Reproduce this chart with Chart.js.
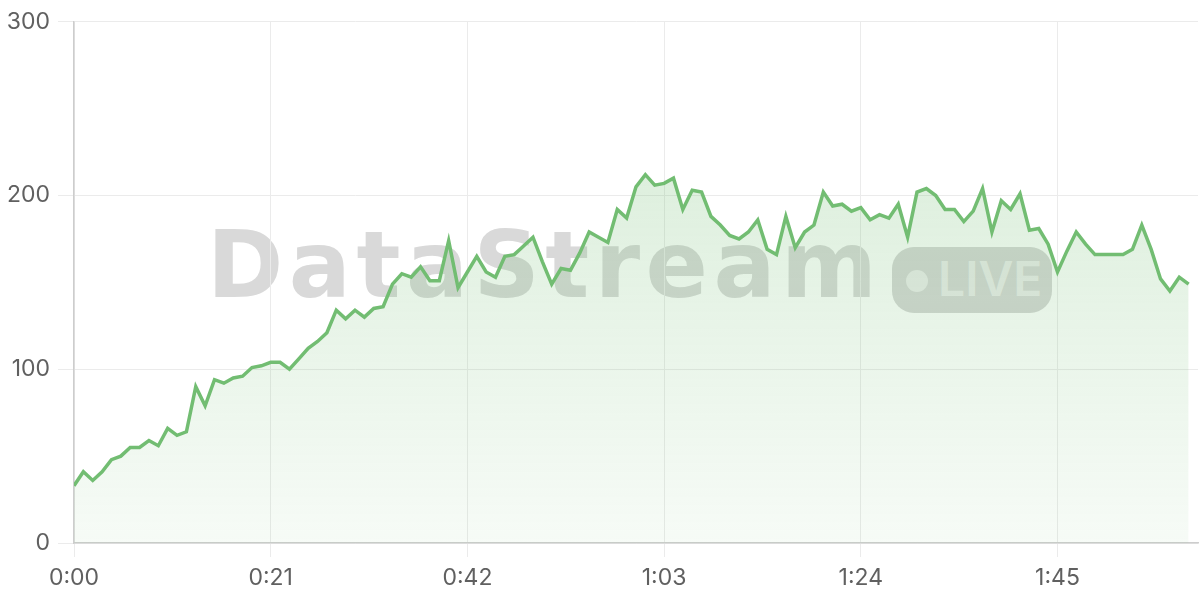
<!DOCTYPE html>
<html>
<head>
<meta charset="utf-8">
<script src="https://cdn.jsdelivr.net/npm/chart.js@4/dist/chart.umd.min.js"></script>
<style>
    html, body { margin: 0; padding: 0; background: #fff; }
    #wrap { position: relative; width: 1200px; height: 600px; }
    #mark { position: absolute; left: 0; top: 0; width: 1200px; height: 600px; z-index: 0; }
    #word {
        position: absolute; left: 207px; top: 220px;
        font: bold 92px "DejaVu Sans", sans-serif; line-height: 1;
        letter-spacing: 5.5px; color: #d9d9d9; white-space: nowrap;
    }
    #badge {
        position: absolute; left: 892px; top: 247px; width: 160px; height: 66px;
        border-radius: 22px; background: #d7d7d7;
    }
    #badge .dot {
        position: absolute; left: 14px; top: 23px; width: 22px; height: 22px;
        border-radius: 50%; background: rgba(255,255,255,0.55);
    }
    #badge .txt {
        position: absolute; left: 46px; top: 8px;
        font: 600 48px Inter, sans-serif; line-height: 1;
        color: rgba(255,255,255,0.55);
    }
    canvas { position: absolute; left: 0; top: 0; z-index: 1; }
</style>
</head>
<body>
<div id="wrap">
    <div id="mark">
        <div id="word">DataStream</div>
        <div id="badge"><div class="dot"></div><div class="txt">LIVE</div></div>
    </div>
    <canvas id="streamChart" width="1200" height="600"></canvas>
</div>
<script>
// seconds since start
const seconds = Array.from({ length: 120 }, (_, i) => i);

// viewers per second
const viewers = [
    33, 41, 36, 41, 48, 50, 55, 55, 59, 56,
    66, 62, 64, 90, 79, 94, 92, 95, 96, 101,
    102, 104, 104, 100, 106, 112, 116, 121, 134, 129,
    134, 130, 135, 136, 149, 155, 153, 159, 151, 151,
    174, 147, 156, 165, 156, 153, 165, 166, 171, 176,
    162, 149, 158, 157, 167, 179, 176, 173, 192, 187,
    205, 212, 206, 207, 210, 192, 203, 202, 188, 183,
    177, 175, 179, 186, 169, 166, 188, 170, 179, 183,
    202, 194, 195, 191, 193, 186, 189, 187, 195, 176,
    202, 204, 200, 192, 192, 185, 191, 204, 179, 197,
    192, 201, 180, 181, 172, 156, 168, 179, 172, 166,
    166, 166, 166, 169, 183, 169, 152, 145, 153, 149,
];

const yTicks = [0, 100, 200, 300];

const fmtTime = (v) => Math.floor(v / 60) + ":" + String(v % 60).padStart(2, "0");

const ctx = document.getElementById("streamChart");
new Chart(ctx, {
    type: "line",
    data: {
        labels: seconds,
        datasets: [
            {
                label: "Viewers",
                data: viewers,
                borderColor: "rgb(114, 189, 114)",
                borderWidth: 3.5,
                pointRadius: 0,
                tension: 0,
                fill: "origin",
                backgroundColor: (c) => {
                    const area = c.chart.chartArea;
                    if (!area) return "rgba(112, 188, 112, 0.15)";
                    const g = c.chart.ctx.createLinearGradient(0, area.top, 0, area.bottom);
                    g.addColorStop(0, "rgba(112, 188, 112, 0.3)");
                    g.addColorStop(1, "rgba(112, 188, 112, 0.06)");
                    return g;
                },
            },
        ],
    },
    options: {
        responsive: false,
        animation: false,
        layout: { padding: { top: 19, right: 2, left: 0, bottom: 0 } },
        plugins: { legend: { display: false }, tooltip: { enabled: false } },
        scales: {
            x: {
                type: "linear",
                min: 0,
                max: 120,
                grid: { color: "#ebebeb", tickLength: 14 },
                border: { color: "#cdcdcd", width: 1.5 },
                ticks: {
                    stepSize: 21,
                    includeBounds: false,
                    padding: 7,
                    color: "#606060",
                    font: { family: "Inter", size: 23 },
                    callback: (v) => fmtTime(v),
                    maxRotation: 0,
                },
                afterFit: (s) => { s.height = 57; },
            },
            y: {
                min: 0,
                max: 300,
                grid: { color: "#ebebeb", tickLength: 16 },
                border: { color: "#cdcdcd", width: 1.5 },
                afterBuildTicks: (s) => { s.ticks = yTicks.map((v) => ({ value: v })); },
                ticks: {
                    padding: 8,
                    color: "#606060",
                    font: { family: "Inter", size: 23 },
                },
                afterFit: (s) => { s.width = 74; },
            },
        },
    },
});
</script>
</body>
</html>
